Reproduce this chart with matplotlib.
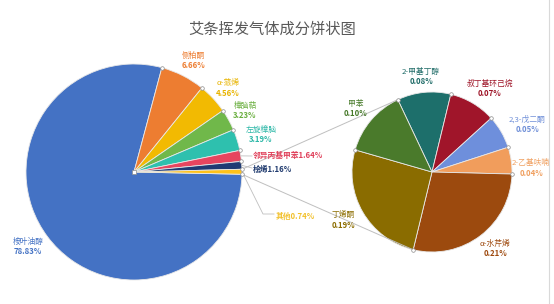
import matplotlib
matplotlib.use('Agg')
import matplotlib.pyplot as plt
import numpy as np

plt.rcParams['font.family'] = ['Noto Sans CJK SC', 'DejaVu Sans']

# ---------------- data ----------------
title = '艾条挥发气体成分饼状图'
main_labels = ['桉叶油醇', '侧柏酮', 'α-蒎烯', '樟脑萜', '左旋樟脑', '邻异丙基甲苯', '桧烯', '其他']
main_values = [78.83, 6.66, 4.56, 3.23, 3.19, 1.64, 1.16, 0.74]
sub_labels = ['2-甲基丁醇', '叔丁基环己烷', '2,3-戊二酮', '2-乙基呋喃', 'α-水芹烯', '丁烯酮', '甲苯']
sub_values = [0.08, 0.07, 0.05, 0.04, 0.21, 0.19, 0.10]

# ---------------- style ----------------
main_colors = ['#4472C4', '#ED7D31', '#F2BA02', '#70B84A', '#2EC0AE', '#E6455F', '#1F3A73', '#FFC21A']
sub_colors = ['#1D6F6B', '#A0152A', '#6E8FDC', '#F19D5C', '#9C4A0E', '#8A6C00', '#4A7A2B']
main_txt = ['#4472C4', '#ED7D31', '#E8B400', '#6AAF3F', '#2DB8A8', '#E0405A', '#1F3A6E', '#F2C12E']
sub_txt = ['#1E6B67', '#9E1427', '#6F8FD8', '#F0A060', '#9E4A0F', '#8C6D00', '#477A2A']

W, H = 554, 304
fig = plt.figure(figsize=(W / 100, H / 100), dpi=100)
ax = fig.add_axes([0, 0, 1, 1])

def Y(y):
    return H - y

main_c = (134, Y(172)); main_r = 108
sub_c = (432, Y(172)); sub_r = 80
main_start = -1.2
sub_start = 115.3

wp = dict(edgecolor='#E8E8E8', linewidth=0.6)
ax.pie(main_values, colors=main_colors, startangle=main_start, counterclock=False,
       center=main_c, radius=main_r, wedgeprops=wp, frame=True)
ax.pie(sub_values, colors=sub_colors, startangle=sub_start, counterclock=False,
       center=sub_c, radius=sub_r, wedgeprops=wp, frame=True)

def boundary_angles(vals, start):
    tot = sum(vals)
    cum = np.concatenate([[0], np.cumsum(vals)]) / tot
    return start - 360 * cum

def pt(c, r, ang):
    a = np.deg2rad(ang)
    return c[0] + r * np.cos(a), c[1] + r * np.sin(a)

mb = boundary_angles(main_values, main_start)
sb = boundary_angles(sub_values, sub_start)

# connector lines between "其他" slice and the secondary pie
lc = '#BFBFBF'
p_up = pt(main_c, main_r, mb[-2])
p_dn = pt(main_c, main_r, mb[-1])
q_up = pt(sub_c, sub_r, sb[0])
q_dn = pt(sub_c, sub_r, sb[5])
ax.plot([p_up[0], q_up[0]], [p_up[1], q_up[1]], color=lc, lw=0.7, zorder=1.5)
ax.plot([p_dn[0], q_dn[0]], [p_dn[1], q_dn[1]], color=lc, lw=0.7, zorder=1.5)

# selection handles
for a in mb[:-1]:
    x, y = pt(main_c, main_r, a)
    ax.plot(x, y, 'o', ms=2.6, mfc='white', mec='#8C8C8C', mew=0.5, zorder=5)
ax.plot(*main_c, 's', ms=2.6, mfc='white', mec='#8C8C8C', mew=0.5, zorder=5)
for a in sb[:-1]:
    x, y = pt(sub_c, sub_r, a)
    ax.plot(x, y, 'o', ms=2.6, mfc='white', mec='#8C8C8C', mew=0.5, zorder=5)

# leader lines for small slices
def mid(b, i):
    return (b[i] + b[i + 1]) / 2
for i, end in [(5, (252, Y(156))), (6, (252, Y(168)))]:
    x, y = pt(main_c, main_r, mid(mb, i))
    ax.plot([x, end[0]], [y, end[1]], color=lc, lw=0.6, zorder=1.5)
x, y = pt(main_c, main_r, mid(mb, 7))
ax.plot([x, 263, 274], [y, Y(214), Y(214)], color=lc, lw=0.6, zorder=1.5)

fs = 5.6
def two_line(x, y, name, val, col):
    ax.text(x, Y(y - 5), name, ha='center', va='center', fontsize=fs, color=col)
    ax.text(x, Y(y + 5), f'{val:.2f}%', ha='center', va='center', fontsize=fs,
            color=col, fontweight='bold')

main_pos = {0: (28, 247), 1: (193, 61), 2: (228, 88), 3: (245, 111), 4: (261, 135)}
for i, (x, y) in main_pos.items():
    two_line(x, y, main_labels[i], main_values[i], main_txt[i])
one_line = {5: (253, 155), 6: (253, 169), 7: (276, 216)}
for i, (x, y) in one_line.items():
    ax.text(x, Y(y), f'{main_labels[i]}{main_values[i]:.2f}%', ha='left', va='center',
            fontsize=fs, color=main_txt[i], fontweight='bold')

sub_pos = [(421, 77), (490, 89), (527, 124), (531, 168), (495, 249), (343, 220), (356, 109)]
for i, (x, y) in enumerate(sub_pos):
    two_line(x, y, sub_labels[i], sub_values[i], sub_txt[i])

ax.text(W / 2 - 5, Y(29), title, ha='center', va='center', fontsize=11, color='#595959')

# right border of chart area
ax.plot([549, 549], [0, H], color='#D9D9D9', lw=0.8)

ax.set_xlim(0, W)
ax.set_ylim(0, H)
ax.set_aspect('equal')
ax.axis('off')
fig.savefig('out.png', dpi=100, facecolor='white')
